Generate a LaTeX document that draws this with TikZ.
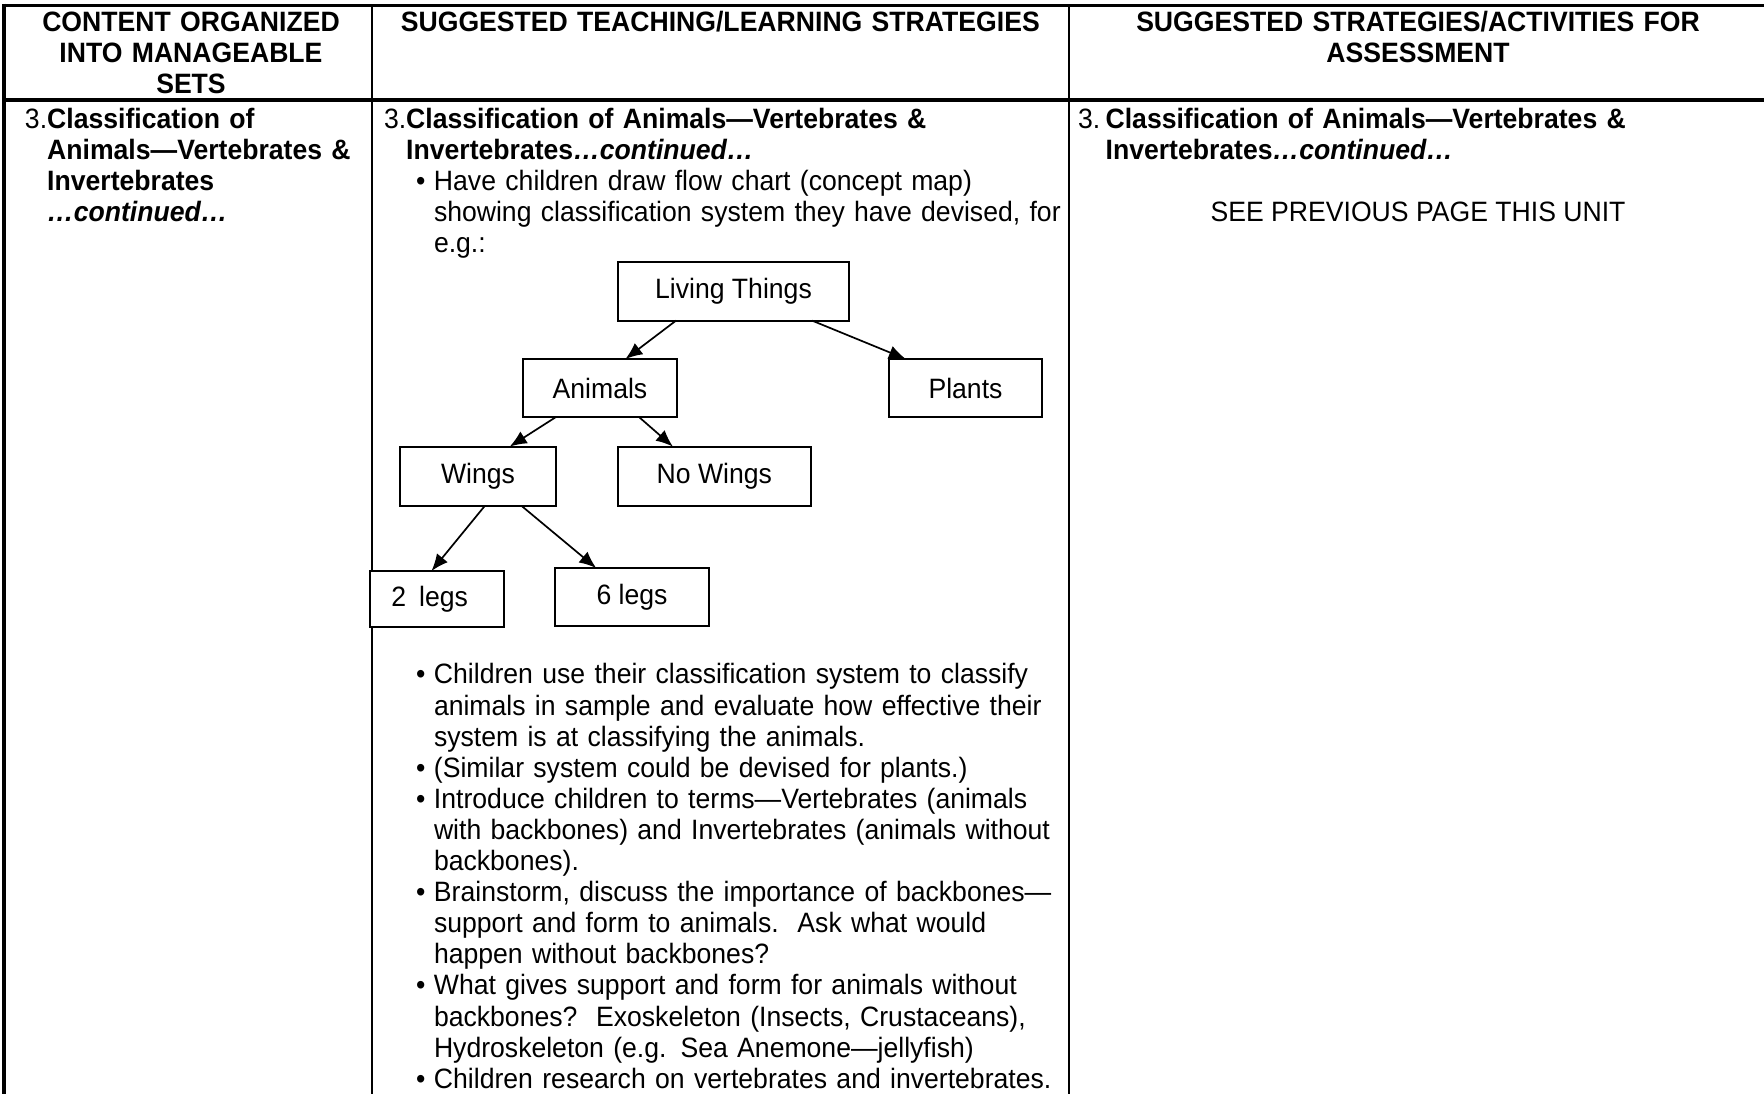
\documentclass[tikz,border=0pt]{standalone}
\usepackage{fontspec}
\setmainfont[FakeStretch=0.95]{Liberation Sans}
\usetikzlibrary{calc,arrows.meta}
% hanging number label: the rest of the paragraph lines up after it
\newcommand\numlead[1]{\noindent\setbox0=\hbox{#1}\hangindent=\wd0\hangafter=1\box0}
% same, with a fixed label width
\newcommand\numleadw[2]{\noindent\hangindent=#1\hangafter=1\makebox[#1][l]{#2}}
% bullet item with hanging indent
\newcommand\bul{\noindent\hangindent=9pt\hangafter=1\makebox[9pt][l]{\textbullet}}
\begin{document}
\begin{tikzpicture}[x=0.5pt,y=-0.5pt,
  every node/.style={inner sep=0pt,outer sep=0pt},
  body/.style={font=\fontsize{14}{15.55}\selectfont},
  para/.style={body,anchor=north west,align=left,text width=400pt},
  head/.style={font=\fontsize{14}{15.55}\selectfont\bfseries,anchor=north,align=center,text width=#1},
  head/.default=170pt,
  box/.style={draw,line width=1pt,fill=white,body},
  link/.style={line width=0.85pt,-{Latex[length=8.5pt,width=7pt]}},
  thickrule/.style={line width=1.9pt},
  thinrule/.style={line width=1pt}
]
\useasboundingbox (0,0) rectangle (1764,1094);
\fill[white] (0,0) rectangle (1764,1094);

% table rules
\draw[thinrule] (371.8,6) -- (371.8,1094);
\draw[thinrule] (1068.5,6) -- (1068.5,1094);
\draw[thickrule] (2,5.5) -- (1764,5.5);
\draw[line width=2pt] (2,100) -- (1764,100);
\draw[line width=2pt] (4,3.6) -- (4,1094);

% header row
\node[head=175pt] (h1) at (191,9.5) {\strut CONTENT ORGANIZED\\INTO MANAGEABLE\\SETS};
\node[head=340pt] (h2) at (720.3,9.5) {\strut SUGGESTED TEACHING/LEARNING STRATEGIES};
\node[head=340pt] (h3) at (1418,9.5) {\strut SUGGESTED STRATEGIES/ACTIVITIES FOR\\ASSESSMENT};

% first column
\node[para] (c1) at (25,106.7) {\numlead{3.}\strut\textbf{Classification of}\newline\textbf{Animals—Vertebrates \&}\newline\textbf{Invertebrates}\newline\textbf{\textit{…continued…}}\par};

% second column
\node[para] (c2) at (384,106.7) {\numlead{3.}\strut\textbf{Classification of Animals—Vertebrates \&}\newline\textbf{Invertebrates\textit{…continued…}}\par};
\node[para] (c2a) at (416,168.9) {\bul\strut Have children draw flow chart (concept map)\newline showing classification system they have devised, for\newline e.g.:\par};

% concept map
\node[box,minimum width=115.9pt,minimum height=29.3pt] (lt) at (733.5,291.3) {Living Things};
\node[box,minimum width=77pt,minimum height=29pt] (an) at (600,388) {Animals};
\node[box,minimum width=76.5pt,minimum height=29pt] (pl) at (965.5,388) {Plants};
\node[box,minimum width=77.75pt,minimum height=29.7pt] (wg) at (478,476.3) {Wings};
\node[box,minimum width=96.7pt,minimum height=29.7pt] (nw) at (714.3,476.3) {No Wings};
\node[box,minimum width=67pt,minimum height=28pt] (l2) at (437,599) {2\hspace{6.5pt}legs\hspace{7.25pt}\mbox{}};
\node[box,minimum width=77.2pt,minimum height=29pt] (l6) at (632,597) {6 legs};

\draw[link] ($(lt.south west)!0.252!(lt.south east)$) -- ($(an.north west)!0.665!(an.north east)$);
\draw[link] ($(lt.south west)!0.839!(lt.south east)$) -- ($(pl.north west)!0.11!(pl.north east)$);
\draw[link] ($(an.south west)!0.214!(an.south east)$) -- ($(wg.north west)!0.704!(wg.north east)$);
\draw[link] ($(an.south west)!0.753!(an.south east)$) -- ($(nw.north west)!0.286!(nw.north east)$);
\draw[link] ($(wg.south west)!0.543!(wg.south east)$) -- ($(l2.north west)!0.459!(l2.north east)$);
\draw[link] ($(wg.south west)!0.781!(wg.south east)$) -- ($(l6.north west)!0.268!(l6.north east)$);

\node[para] (c2b) at (416,662.2) {\bul\strut Children use their classification system to classify\newline animals in sample and evaluate how effective their\newline system is at classifying the animals.\par
\bul(Similar system could be devised for plants.)\par
\bul Introduce children to terms—Vertebrates (animals\newline with backbones) and Invertebrates (animals without\newline backbones).\par
\bul Brainstorm, discuss the importance of backbones—\newline support and form to animals.\ \ Ask what would\newline happen without backbones?\par
\bul What gives support and form for animals without\newline backbones?\ \ Exoskeleton (Insects, Crustaceans),\newline Hydroskeleton (e.g. Sea Anemone—jellyfish)\par
\bul Children research on vertebrates and invertebrates.\par};

% third column
\node[para] (c3) at (1078,106.7) {\numleadw{13.8pt}{3.}\strut\textbf{Classification of Animals—Vertebrates \&}\newline\textbf{Invertebrates\textit{…continued…}}\par};
\node[body,anchor=base] (c3a) at (1418,221.8) {SEE PREVIOUS PAGE THIS UNIT};
\end{tikzpicture}
\end{document}
